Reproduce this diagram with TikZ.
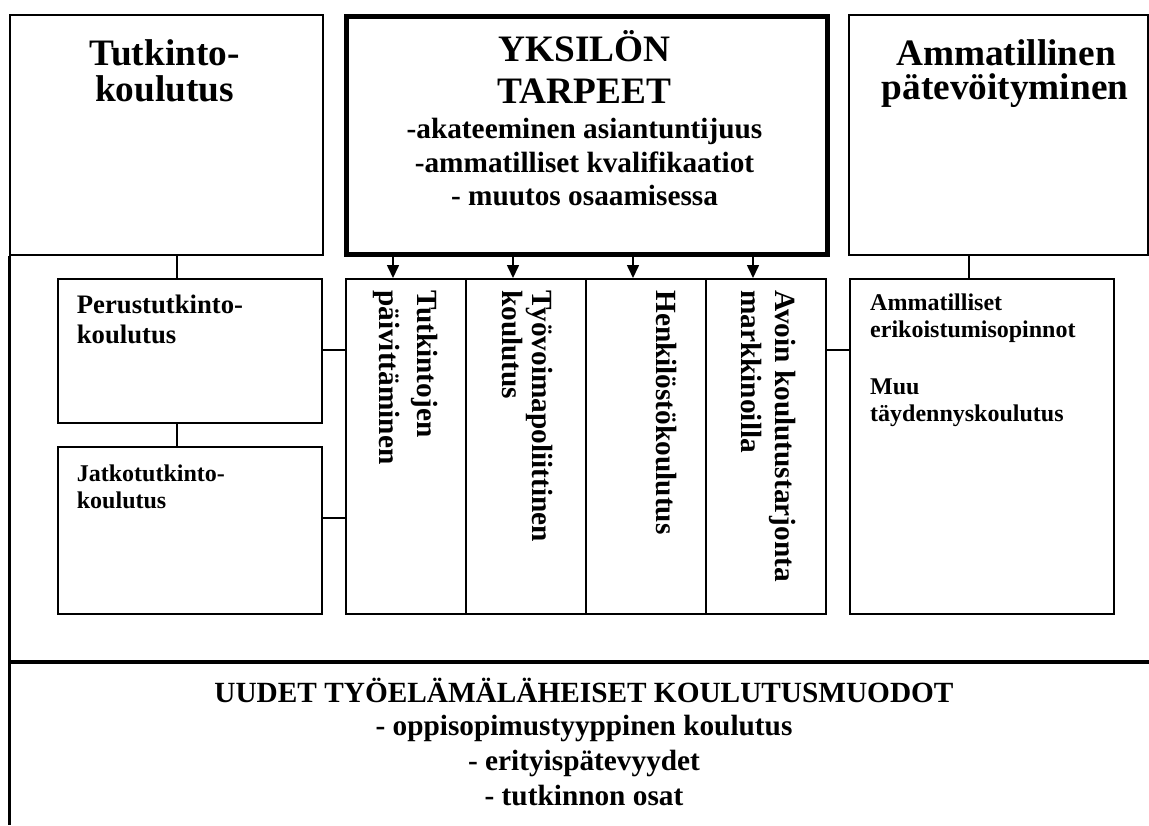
\documentclass[tikz,border=0pt]{standalone}
\usepackage{fontspec}
\setmainfont{Liberation Serif}
\usetikzlibrary{arrows.meta}
\tikzset{
  box/.style={draw, line width=2pt, rectangle, inner sep=0pt, anchor=north west},
  needbox/.style={draw, line width=5pt, rectangle, inner sep=0pt, anchor=north west},
  conn/.style={line width=1.6pt},
  heavy/.style={line width=3.5pt},
  arr/.style={line width=1.6pt, -{Triangle[length=13pt,width=12pt]}},
  bigtxt/.style={font=\fontsize{37.3}{42}\selectfont\bfseries, inner sep=0pt, anchor=base},
  midtxt/.style={font=\fontsize{29.3}{33.7}\selectfont\bfseries, inner sep=0pt, anchor=base},
  vtxt/.style={font=\fontsize{29.3}{33.7}\selectfont\bfseries, inner sep=0pt, rotate=-90, anchor=base west},
  pertxt/.style={font=\fontsize{26.7}{30.7}\selectfont\bfseries, inner sep=0pt, anchor=base west},
  smalltxt/.style={font=\fontsize{24}{27.6}\selectfont\bfseries, inner sep=0pt, anchor=base west},
}
\begin{document}
\begin{tikzpicture}[x=1pt,y=-1pt]
\useasboundingbox[fill=white] (0,0) rectangle (1149,825);

% top boxes
\node[box, minimum width=313.5pt, minimum height=240pt] (tl) at (8.5,13.5) {};
\node[needbox, minimum width=481pt, minimum height=238pt] (need) at (344,14) {};
\node[box, minimum width=299pt, minimum height=240pt] (tr) at (848,13.5) {};

% middle boxes
\node[box, minimum width=263.5pt, minimum height=144pt] (perus) at (57,278) {};
\node[box, minimum width=263.5pt, minimum height=167pt] (jatko) at (57,446) {};
\node[box, minimum width=120pt, minimum height=335pt] (c1) at (345,278) {};
\node[box, minimum width=120pt, minimum height=335pt] (c2) at (465,278) {};
\node[box, minimum width=120pt, minimum height=335pt] (c3) at (585,278) {};
\node[box, minimum width=120pt, minimum height=335pt] (c4) at (705,278) {};
\node[box, minimum width=264pt, minimum height=335pt] (rs) at (849,278) {};

% helper coordinates
\coordinate (kx) at (177,0);
\coordinate (rx) at (969,0);
\coordinate (ky1) at (0,350);
\coordinate (ky2) at (0,518);
\coordinate (a1) at (393,0);
\coordinate (a2) at (513,0);
\coordinate (a3) at (633,0);
\coordinate (a4) at (753,0);
\coordinate (lx) at (9.5,0);
\coordinate (bot) at (0,825);
\coordinate (hy) at (0,662);
\coordinate (rend) at (1149,662);

% connectors
\draw[conn] (tl.south -| kx) -- (perus.north -| kx);
\draw[conn] (perus.south -| kx) -- (jatko.north -| kx);
\draw[conn] (perus.east |- ky1) -- (c1.west |- ky1);
\draw[conn] (jatko.east |- ky2) -- (c1.west |- ky2);
\draw[conn] (c4.east |- ky1) -- (rs.west |- ky1);
\draw[conn] (tr.south -| rx) -- (rs.north -| rx);
\draw[arr] (need.south -| a1) -- (c1.north -| a1);
\draw[arr] (need.south -| a2) -- (c2.north -| a2);
\draw[arr] (need.south -| a3) -- (c3.north -| a3);
\draw[arr] (need.south -| a4) -- (c4.north -| a4);

% heavy frame lines
\draw[heavy] (tl.south -| lx) -- (bot -| lx);
\draw[heavy] (hy -| lx) -- (rend);

% top texts
\node[bigtxt] (tlt1) at (164.7,65) {Tutkinto-};
\node[bigtxt] (tlt2) at (164.7,101.7) {koulutus};
\node[bigtxt] (nt1) at (584.5,61.7) {YKSILÖN};
\node[bigtxt] (nt2) at (584.5,103.3) {TARPEET};
\node[midtxt] (nt3) at (584.5,138) {-akateeminen asiantuntijuus};
\node[midtxt] (nt4) at (584.5,172.7) {-ammatilliset kvalifikaatiot};
\node[midtxt] (nt5) at (584.5,205.5) {- muutos osaamisessa};
\node[bigtxt] (trt1) at (1006,65) {Ammatillinen};
\node[bigtxt] (trt2) at (1005,99) {pätevöityminen};

% left small boxes text
\node[pertxt] (pt1) at (76.7,313) {Perustutkinto-};
\node[pertxt] (pt2) at (76.7,343) {koulutus};
\node[smalltxt] (jt1) at (76.7,481.5) {Jatkotutkinto-};
\node[smalltxt] (jt2) at (76.7,508) {koulutus};

% vertical column texts
\node[vtxt] (v1a) at (417,290) {Tutkintojen};
\node[vtxt] (v1b) at (379,290) {päivittäminen};
\node[vtxt] (v2a) at (532,290) {Työvoimapoliittinen};
\node[vtxt] (v2b) at (502,290) {koulutus};
\node[vtxt] (v3) at (656.7,290) {Henkilöstökoulutus};
\node[vtxt] (v4a) at (775,290) {Avoin koulutustarjonta};
\node[vtxt] (v4b) at (741.7,290) {markkinoilla};

% right small box text
\node[smalltxt] (rt1) at (870,310.7) {Ammatilliset};
\node[smalltxt] (rt2) at (870,337.7) {erikoistumisopinnot};
\node[smalltxt] (rt3) at (870,394) {Muu};
\node[smalltxt] (rt4) at (870,421.7) {täydennyskoulutus};

% bottom texts
\node[midtxt] (b1) at (584,702) {UUDET TYÖELÄMÄLÄHEISET KOULUTUSMUODOT};
\node[midtxt] (b2) at (584,735.5) {- oppisopimustyyppinen koulutus};
\node[midtxt] (b3) at (584,770) {- erityispätevyydet};
\node[midtxt] (b4) at (584,805) {- tutkinnon osat};
\end{tikzpicture}
\end{document}
